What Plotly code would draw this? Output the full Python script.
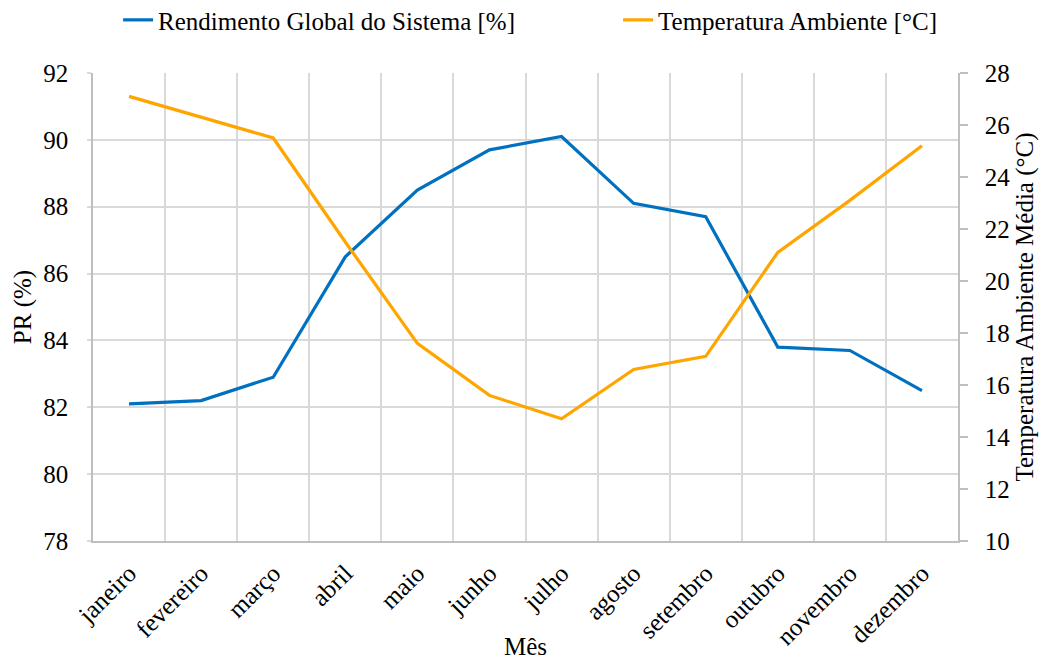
import plotly.graph_objects as go

meses = ["janeiro", "fevereiro", "março", "abril", "maio", "junho", "julho",
         "agosto", "setembro", "outubro", "novembro", "dezembro"]
rendimento = [82.1, 82.2, 82.9, 86.5, 88.5, 89.7, 90.1, 88.1, 87.7, 83.8, 83.7, 82.5]
temperatura = [27.1, 26.3, 25.5, 21.5, 17.6, 15.6, 14.7, 16.6, 17.1, 21.1, 23.1, 25.2]

x = list(range(len(meses)))
FONT = '"Liberation Serif", "Times New Roman", Tinos, serif'
FS = 25

fig = go.Figure()
fig.add_trace(go.Scatter(x=x, y=rendimento, mode="lines",
                         name="Rendimento Global do Sistema [%]",
                         line=dict(color="#0070C0", width=3.2), yaxis="y",
                         legend="legend"))
fig.add_trace(go.Scatter(x=x, y=temperatura, mode="lines",
                         name="Temperatura Ambiente [°C]",
                         line=dict(color="#FFA500", width=3.2), yaxis="y2",
                         legend="legend2"))

leg_common = dict(orientation="h", y=1.113, yanchor="middle", xanchor="left",
                  font=dict(family=FONT, size=FS), bgcolor="rgba(0,0,0,0)")

fig.update_layout(
    template="none",
    width=1049, height=660,
    margin=dict(l=93, r=91, t=73, b=119, autoexpand=False),
    paper_bgcolor="white", plot_bgcolor="white",
    font=dict(family=FONT, size=FS, color="black"),
    showlegend=True,
    legend=dict(x=0.029, **leg_common),
    legend2=dict(x=0.607, **leg_common),
    xaxis=dict(
        range=[-0.5, len(meses) - 0.5],
        tickmode="array", tickvals=x, ticktext=meses, tickangle=-45,
        showgrid=False, zeroline=False,
        showline=True, linecolor="#bfbfbf", linewidth=1.5,
        ticks="", tickfont=dict(family=FONT, size=FS), ticklabelstandoff=6,
        minor=dict(tickmode="linear", tick0=0.5, dtick=1, showgrid=True,
                   gridcolor="#d9d9d9", gridwidth=1.5, ticks=""),
        title=dict(text="Mês", font=dict(family=FONT, size=FS), standoff=8),
        automargin=False,
    ),
    yaxis=dict(
        range=[78, 92], tickmode="linear", tick0=78, dtick=2,
        showgrid=True, gridcolor="#d9d9d9", gridwidth=1.5, zeroline=False,
        showline=True, linecolor="#bfbfbf", linewidth=1.5,
        ticks="outside", ticklen=4, tickcolor="#d9d9d9", tickwidth=1.5,
        tickfont=dict(family=FONT, size=FS), ticklabelstandoff=14,
        title=dict(text="PR (%)", font=dict(family=FONT, size=FS), standoff=5),
        automargin=False,
    ),
    yaxis2=dict(
        range=[10, 28], tickmode="linear", tick0=10, dtick=2,
        overlaying="y", side="right", showgrid=False, zeroline=False,
        showline=True, linecolor="#bfbfbf", linewidth=1.5,
        ticks="outside", ticklen=8, tickcolor="#bfbfbf", tickwidth=1.5,
        tickfont=dict(family=FONT, size=FS), ticklabelstandoff=12,
        title=dict(text="Temperatura Ambiente Média (°C)", font=dict(family=FONT, size=FS), standoff=6),
        automargin=False,
    ),
)

fig.write_html("out.html", config={"displayModeBar": False},
               post_script="document.body.style.margin='0';")
